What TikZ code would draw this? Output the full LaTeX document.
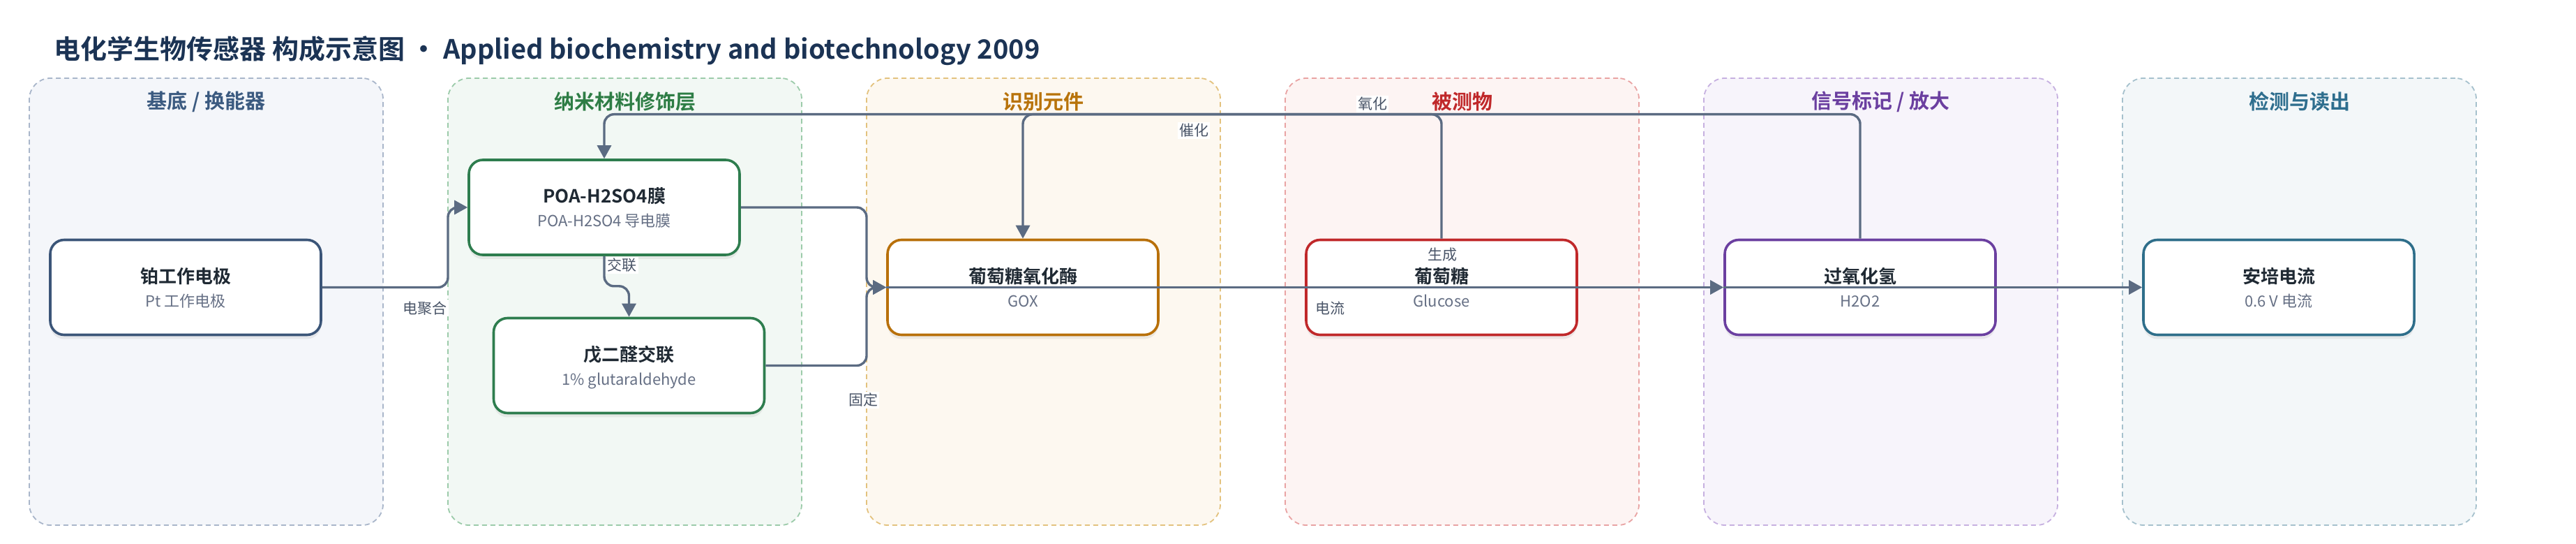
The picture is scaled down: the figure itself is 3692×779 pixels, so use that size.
\documentclass[tikz,border=0pt]{standalone}
\usepackage{fontspec}
\setmainfont{Noto Sans CJK SC}[BoldFont={Noto Sans CJK SC Bold}]
\usepackage{tikz}
\usetikzlibrary{arrows.meta,shadows}

\definecolor{titlenavy}{HTML}{1B3354}
\definecolor{edgegray}{HTML}{5B6B82}
\definecolor{lbltext}{HTML}{4A5568}
\definecolor{ttltext}{HTML}{1F2933}
\definecolor{subgray}{HTML}{667085}
%lane colours: border, fill, text, box
\definecolor{baseB}{HTML}{A9B6CA}\definecolor{baseF}{HTML}{F4F6FA}\definecolor{baseT}{HTML}{3B5A80}\definecolor{baseN}{HTML}{3B5578}
\definecolor{nanoB}{HTML}{9CCBAA}\definecolor{nanoF}{HTML}{F2F8F4}\definecolor{nanoT}{HTML}{2E7D45}\definecolor{nanoN}{HTML}{2E7D4E}
\definecolor{recoB}{HTML}{E3C27E}\definecolor{recoF}{HTML}{FDF8F0}\definecolor{recoT}{HTML}{B8730A}\definecolor{recoN}{HTML}{B8700A}
\definecolor{anaB}{HTML}{E9A3A3}\definecolor{anaF}{HTML}{FDF4F3}\definecolor{anaT}{HTML}{C0282A}\definecolor{anaN}{HTML}{C0282A}
\definecolor{sigB}{HTML}{C6B0E0}\definecolor{sigF}{HTML}{F7F4FB}\definecolor{sigT}{HTML}{6B3FA0}\definecolor{sigN}{HTML}{6B3FA0}
\definecolor{detB}{HTML}{A6C1CD}\definecolor{detF}{HTML}{F3F7F9}\definecolor{detT}{HTML}{2E6E8E}\definecolor{detN}{HTML}{2E6E8A}

\tikzset{
	lane/.style 2 args={draw=#1, fill=#2, line width=0.9pt, dash pattern=on 3.5pt off 2.5pt,
		rounded corners=15pt, minimum width=253.5pt, minimum height=320pt, inner sep=0pt},
	lanetitle/.style={text=#1, font=\fontsize{14.5}{14.5}\selectfont\bfseries, inner sep=0pt},
	box/.style={draw=#1, fill=white, line width=1.8pt, rounded corners=10pt,
		minimum width=194pt, minimum height=68pt,
		drop shadow={shadow xshift=0pt, shadow yshift=-3pt, opacity=0.13}},
	boxtitle/.style={text=ttltext, font=\fontsize{13}{13}\selectfont\bfseries, inner sep=0pt,
		text height=0.88em, text depth=0.12em},
	boxsub/.style={text=subgray, font=\fontsize{11}{11}\selectfont, inner sep=0pt,
		text height=0.88em, text depth=0.12em},
	flow/.style={draw=edgegray, line width=1.7pt, rounded corners=7pt,
		-{Triangle[length=9.5pt,width=10pt]}},
	lbl/.style={fill=white, text=lbltext, font=\fontsize{10.5}{10.5}\selectfont, inner sep=1pt,
		text height=0.88em, text depth=0.12em}
}

\begin{document}
\begin{tikzpicture}[x=0.5pt,y=-0.5pt]
	\useasboundingbox (0,0) rectangle (3692,779);

	%title
	\node[anchor=west, text=titlenavy, font=\fontsize{19}{19}\selectfont\bfseries, inner sep=0pt,
		text height=0.88em, text depth=0.12em] (title) at (77,76.5)
		{电化学生物传感器 构成示意图 • Applied biochemistry and biotechnology 2009};

	%lanes
	\node[lane={baseB}{baseF}] (lane1) at (295.5,432) {};
	\node[lane={nanoB}{nanoF}] (lane2) at (895.5,432) {};
	\node[lane={recoB}{recoF}] (lane3) at (1495.5,432) {};
	\node[lane={anaB}{anaF}]   (lane4) at (2095.5,432) {};
	\node[lane={sigB}{sigF}]   (lane5) at (2695.5,432) {};
	\node[lane={detB}{detF}]   (lane6) at (3295.5,432) {};
		\node[lanetitle=baseT] (lane1-t) at (295.5,145.5) {基底 / 换能器};
		\node[lanetitle=nanoT] (lane2-t) at (895.5,145.5) {纳米材料修饰层};
		\node[lanetitle=recoT] (lane3-t) at (1495.5,145.5) {识别元件};
		\node[lanetitle=anaT]  (lane4-t) at (2095.5,145.5) {被测物};
		\node[lanetitle=sigT]  (lane5-t) at (2695.5,145.5) {信号标记 / 放大};
		\node[lanetitle=detT]  (lane6-t) at (3295.5,145.5) {检测与读出};

	%boxes
	\node[box=baseN] (pt) at (266,411.5) {};		%Pt electrode
		\node[boxtitle] (pt-t) at ([yshift=7pt]pt.center) {铂工作电极};
		\node[boxsub]   (pt-s) at ([yshift=-10pt]pt.center) {Pt 工作电极};
	\node[box=nanoN] (poa) at (866,297) {};
		\node[boxtitle] (poa-t) at ([yshift=7pt]poa.center) {POA-H2SO4膜};
		\node[boxsub]   (poa-s) at ([yshift=-10pt]poa.center) {POA-H2SO4 导电膜};
	\node[box=nanoN] (glut) at (901.5,523.5) {};
		\node[boxtitle] (glut-t) at ([yshift=7pt]glut.center) {戊二醛交联};
		\node[boxsub]   (glut-s) at ([yshift=-10pt]glut.center) {1\% glutaraldehyde};
	\node[box=recoN] (gox) at (1466,411.5) {};
		\node[boxtitle] (gox-t) at ([yshift=7pt]gox.center) {葡萄糖氧化酶};
		\node[boxsub]   (gox-s) at ([yshift=-10pt]gox.center) {GOX};
	\node[box=anaN] (glu) at (2066,411.5) {};
		\node[boxtitle] (glu-t) at ([yshift=7pt]glu.center) {葡萄糖};
		\node[boxsub]   (glu-s) at ([yshift=-10pt]glu.center) {Glucose};
	\node[box=sigN] (hp) at (2666,411.5) {};
		\node[boxtitle] (hp-t) at ([yshift=7pt]hp.center) {过氧化氢};
		\node[boxsub]   (hp-s) at ([yshift=-10pt]hp.center) {H2O2};
	\node[box=detN] (amp) at (3266,411.5) {};
		\node[boxtitle] (amp-t) at ([yshift=7pt]amp.center) {安培电流};
		\node[boxsub]   (amp-s) at ([yshift=-10pt]amp.center) {0.6 V 电流};

	%connectors
	\coordinate (bend1) at (642,411.5);
	\coordinate (bend2) at (1242,411.5);
	\draw[flow] (pt.east) -- (bend1) |- (poa.west);			%electropolymerise
	\draw[flow] (poa.south) -- ++(0,43) -| (glut.north);		%cross-link
	\draw[flow] (poa.east) -| (bend2) -- (gox.west);
	\draw[flow] (glut.east) -| (bend2) -- (gox.west);
	\draw[flow] (gox.west) -- (hp.west);
	\draw[flow] (hp.west) -- (amp.west);
	\draw[flow] (glu.north) -- ++(0,-178) -| (gox.north);		%top, short
	\draw[flow] (hp.north) -- ++(0,-178) -| (poa.north);		%top, long

	%labels
	\node[lbl] (l-poly)  at (609,441.5)  {电聚合};
	\node[lbl] (l-link)  at (891.5,380)  {交联};
	\node[lbl] (l-fix)   at (1237,573)   {固定};
	\node[lbl] (l-cat)   at (1711,187)   {催化};
	\node[lbl] (l-ox)    at (1967,149)   {氧化};
	\node[lbl] (l-gen)   at (2067,365)   {生成};
	\node[lbl] (l-cur)   at (1906,441.5) {电流};
\end{tikzpicture}
\end{document}
